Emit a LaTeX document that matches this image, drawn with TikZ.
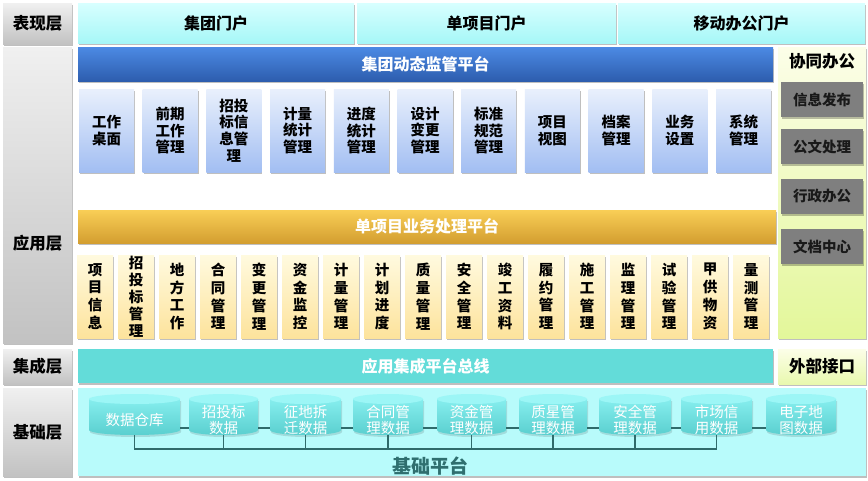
\documentclass[tikz,border=0pt]{standalone}
\usepackage{fontspec}
\setmainfont{Noto Sans CJK SC}
\usetikzlibrary{shadows}
\definecolor{grayT}{HTML}{F0F0F0}
\definecolor{grayB}{HTML}{C2C2C2}
\definecolor{portT}{HTML}{D8FFFF}
\definecolor{portB}{HTML}{A6F7F7}
\definecolor{blueT}{HTML}{4C8AE4}
\definecolor{blueB}{HTML}{2D5DAE}
\definecolor{bmT}{HTML}{E9F0FC}
\definecolor{bmB}{HTML}{A2BEF2}
\definecolor{yelT}{HTML}{F9CE56}
\definecolor{yelB}{HTML}{D39E30}
\definecolor{ymT}{HTML}{FFFADF}
\definecolor{ymB}{HTML}{FDE39C}
\definecolor{rcT}{HTML}{FCFEE8}
\definecolor{rcB}{HTML}{E3F79A}
\definecolor{gbox}{HTML}{7F7F7F}
\definecolor{tealbar}{HTML}{63DCD9}
\definecolor{basebg}{HTML}{B8FBFB}
\definecolor{cylT}{HTML}{86EEEE}
\definecolor{cylB}{HTML}{5ACFCF}
\definecolor{cylTop}{HTML}{9CF6F6}
\definecolor{busc}{HTML}{2F6B6B}
\definecolor{basetxt}{HTML}{2F6F6F}
\begin{document}
\begin{tikzpicture}[x=1pt,y=-1pt,
  box/.style={anchor=north west, inner sep=0pt, outer sep=0pt, align=center},
  shd/.style={drop shadow={shadow xshift=1pt, shadow yshift=-1.5pt, fill=black, opacity=0.25}},
  layer/.style={box, shd, top color=grayT, bottom color=grayB, minimum width=69pt, font=\bfseries\fontsize{16.5}{19}\selectfont},
  portal/.style={box, shd, top color=portT, bottom color=portB, minimum height=40pt, font=\bfseries\fontsize{16}{19}\selectfont},
  bluebar/.style={box, shd, top color=blueT, bottom color=blueB, text=white, minimum width=695pt, minimum height=34pt, font=\bfseries\fontsize{16}{19}\selectfont},
  bmod/.style={box, shd, top color=bmT, bottom color=bmB, minimum width=55pt, minimum height=83pt, font=\bfseries\fontsize{14.5}{16.8}\selectfont},
  yelbar/.style={box, shd, top color=yelT, bottom color=yelB, text=white, minimum width=698pt, minimum height=33pt, font=\bfseries\fontsize{16}{19}\selectfont},
  ymod/.style={box, shd, top color=ymT, bottom color=ymB, minimum width=36pt, minimum height=83pt, font=\bfseries\fontsize{14.5}{17.8}\selectfont},
  gbx/.style={box, shd, fill=gbox, text=black!90, minimum width=82pt, minimum height=35pt, font=\bfseries\fontsize{14.5}{17}\selectfont},
  cyltext/.style={anchor=south, inner sep=0pt, outer sep=0pt, align=center, text=white, minimum height=30pt, minimum width=70pt, font=\fontsize{14.5}{16}\selectfont},
  bus/.style={draw=busc, line width=1.6pt}
]
\useasboundingbox (0,0) rectangle (868,480);
\fill[white] (0,0) rectangle (868,480);

% left layer labels
\node[layer, minimum height=41pt] (l1) at (3,3) {表现层};
\node[layer, minimum height=296pt] (l2) at (3,47) {};
\node[font=\bfseries\fontsize{16.5}{19}\selectfont] (l2t) at (37.5,243) {应用层};
\node[layer, minimum height=35pt] (l3) at (3,349) {集成层};
\node[layer, minimum height=88pt] (l4) at (3,388) {基础层};

% portals
\node[portal, minimum width=276pt] (p1) at (78,3) {集团门户};
\node[portal, minimum width=259pt] (p2) at (357,3) {单项目门户};
\node[portal, minimum width=247pt] (p3) at (618,3) {移动办公门户};

% blue platform
\node[bluebar] (bb) at (78,47) {集团动态监管平台};
\node[bmod] (b1) at (79,89) {工作\\桌面};
\node[bmod] (b2) at (142.7,89) {前期\\工作\\管理};
\node[bmod] (b3) at (206.4,89) {招投\\标信\\息管\\理};
\node[bmod] (b4) at (270.1,89) {计量\\统计\\管理};
\node[bmod] (b5) at (333.8,89) {进度\\统计\\管理};
\node[bmod] (b6) at (397.5,89) {设计\\变更\\管理};
\node[bmod] (b7) at (461.2,89) {标准\\规范\\管理};
\node[bmod] (b8) at (524.9,89) {项目\\视图};
\node[bmod] (b9) at (588.6,89) {档案\\管理};
\node[bmod] (b10) at (652.3,89) {业务\\设置};
\node[bmod] (b11) at (716,89) {系统\\管理};

% yellow platform
\node[yelbar] (yb) at (78,210) {单项目业务处理平台};
\node[ymod] (y1) at (77,255) {项\\目\\信\\息};
\node[ymod, font=\bfseries\fontsize{14.5}{17}\selectfont] (y2) at (118,255) {招\\投\\标\\管\\理};
\node[ymod] (y3) at (159,255) {地\\方\\工\\作};
\node[ymod] (y4) at (200,255) {合\\同\\管\\理};
\node[ymod] (y5) at (241,255) {变\\更\\管\\理};
\node[ymod] (y6) at (282,255) {资\\金\\监\\控};
\node[ymod] (y7) at (323,255) {计\\量\\管\\理};
\node[ymod] (y8) at (364,255) {计\\划\\进\\度};
\node[ymod] (y9) at (405,255) {质\\量\\管\\理};
\node[ymod] (y10) at (446,255) {安\\全\\管\\理};
\node[ymod] (y11) at (487,255) {竣\\工\\资\\料};
\node[ymod] (y12) at (528,255) {履\\约\\管\\理};
\node[ymod] (y13) at (569,255) {施\\工\\管\\理};
\node[ymod] (y14) at (610,255) {监\\理\\管\\理};
\node[ymod] (y15) at (651,255) {试\\验\\管\\理};
\node[ymod] (y16) at (692,255) {甲\\供\\物\\资};
\node[ymod] (y17) at (733,255) {量\\测\\管\\理};

% right column
\node[box, shd, top color=rcT, bottom color=rcB, minimum width=88pt, minimum height=291pt] (rc) at (778,47) {};
\node[font=\bfseries\fontsize{16.5}{19}\selectfont] (rct) at (822,61) {协同办公};
\node[gbx] (g1) at (781,82) {信息发布};
\node[gbx] (g2) at (781,129) {公文处理};
\node[gbx] (g3) at (781,179) {行政办公};
\node[gbx] (g4) at (781,229) {文档中心};

% integration layer
\node[box, shd, fill=tealbar, text=white, minimum width=695pt, minimum height=34pt, font=\bfseries\fontsize{16}{19}\selectfont] (tb) at (78,349) {应用集成平台总线};
\node[box, shd, top color=rcT, bottom color=rcB!80!white, minimum width=88pt, minimum height=35pt, font=\bfseries\fontsize{16.5}{19}\selectfont] (ext) at (778,349) {外部接口};

% base layer
\node[box, shd, fill=basebg, minimum width=788pt, minimum height=88pt] (base) at (78,388) {};
\node[text=basetxt, font=\bfseries\fontsize{19}{22}\selectfont] (baset) at (430,466) {基础平台};

% cylinder bodies
\foreach \xa/\xb in {89/180,189/258,270/341,353/423,437/506,519/587,599/671,681/752,766/836}{
  \pgfmathsetmacro{\rx}{(\xb-\xa)/2}
  \pgfmathsetmacro{\cx}{(\xb+\xa)/2}
  \fill[black, opacity=0.12] (\xa+1,401) -- (\xa+1,432) arc[start angle=180, end angle=0, x radius=\rx, y radius=5] -- (\xb+1,401) -- cycle;
  \shade[top color=cylT, bottom color=cylB] (\xa,399) -- (\xa,430) arc[start angle=180, end angle=0, x radius=\rx, y radius=5] -- (\xb,399) -- cycle;
  \fill[cylTop] (\cx,399) ellipse[x radius=\rx, y radius=5];
}
\node[cyltext, minimum width=91pt] (c1) at (134.5,435) {数据仓库};
\node[cyltext, minimum width=69pt] (c2) at (223.5,435) {招投标\\数据};
\node[cyltext, minimum width=71pt] (c3) at (305.5,435) {征地拆\\迁数据};
\node[cyltext, minimum width=70pt] (c4) at (388,435) {合同管\\理数据};
\node[cyltext, minimum width=69pt] (c5) at (471.5,435) {资金管\\理数据};
\node[cyltext, minimum width=68pt] (c6) at (553,435) {质星管\\理数据};
\node[cyltext, minimum width=72pt] (c7) at (635,435) {安全管\\理数据};
\node[cyltext, minimum width=71pt] (c8) at (716.5,435) {市场信\\用数据};
\node[cyltext, minimum width=70pt] (c9) at (801,435) {电子地\\图数据};

% horizontal links between cylinders
\coordinate (busy) at (0,449);
\foreach \a/\b in {c1/c2,c2/c3,c3/c4,c4/c5,c5/c6,c6/c7,c7/c8,c8/c9}{
  \draw[bus] ([yshift=7pt]\a.south east) -- ([yshift=7pt]\b.south west);
}
% bottom bus
\draw[bus] (c1.south) -- (c1.south |- busy) -- (c8.south |- busy) -- (c8.south);
\foreach \n in {c2,c3,c4,c5,c6,c7}{
  \draw[bus] (\n.south) -- (\n.south |- busy);
}
\end{tikzpicture}
\end{document}
